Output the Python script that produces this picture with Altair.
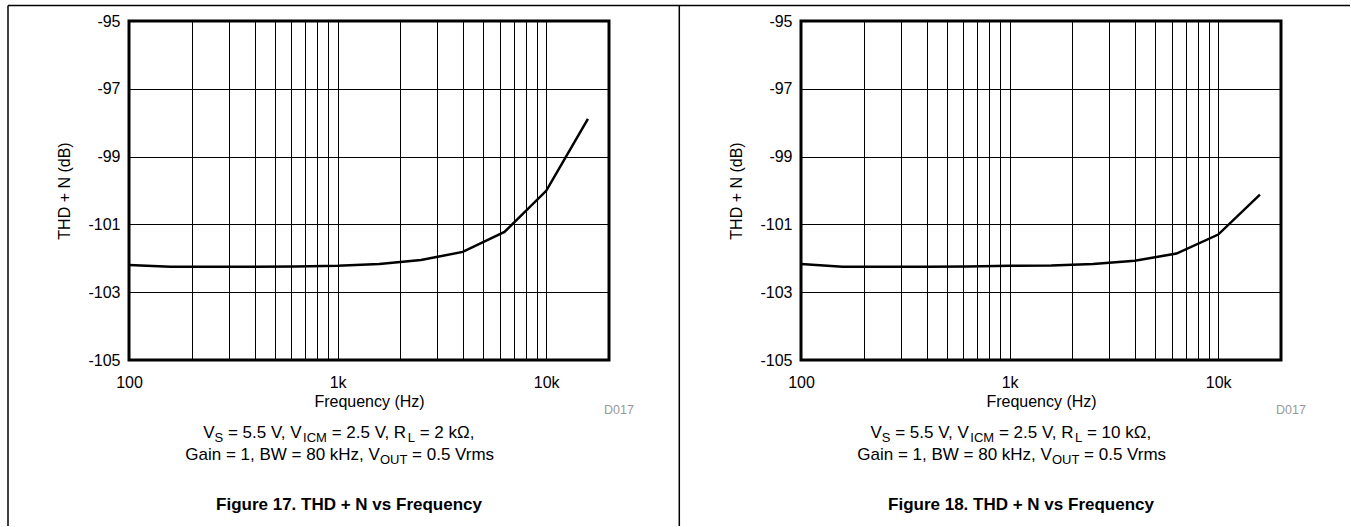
import altair as alt
import pandas as pd

# ---------------- data ----------------
freq_hz = [100, 158, 251, 398, 631, 1000, 1585, 2512, 3981, 6310, 10000, 15849]
thd_rl_2k = [-102.20, -102.25, -102.25, -102.25, -102.24, -102.22, -102.17, -102.05, -101.81, -101.22, -100.01, -97.89]
thd_rl_10k = [-102.17, -102.25, -102.25, -102.25, -102.24, -102.22, -102.21, -102.17, -102.07, -101.86, -101.30, -100.12]

x_grid_values = [100, 200, 300, 400, 500, 600, 700, 800, 900,
                 1000, 2000, 3000, 4000, 5000, 6000, 7000, 8000, 9000, 10000, 20000]
x_label_values = [100, 1000, 10000]
x_label_texts = ["100", "1k", "10k"]
y_tick_values = [-105, -103, -101, -99, -97, -95]

figure_titles = ["Figure 17. THD + N vs Frequency", "Figure 18. THD + N vs Frequency"]
cond_line1 = [
    [("V", 0), ("S", 1), (" = 5.5 V, V", 0), ("ICM", 1), (" = 2.5 V, R", 0), ("L", 1), (" = 2 k\u03a9,", 0)],
    [("V", 0), ("S", 1), (" = 5.5 V, V", 0), ("ICM", 1), (" = 2.5 V, R", 0), ("L", 1), (" = 10 k\u03a9,", 0)],
]
cond_line2 = [("Gain = 1, BW = 80 kHz, V", 0), ("OUT", 1), (" = 0.5 Vrms", 0)]
drawing_id = "D017"
x_title = "Frequency (Hz)"
y_title = "THD + N (dB)"

# ---------------- layout ----------------
W, H = 480, 339
LEFT, TOP = 129, 21
GAP = 192
FONT = "Liberation Sans"

# Arial / Liberation Sans advance widths (per 1000 em)
AW = {" ": 278, ",": 278, ".": 278, "=": 584, "0": 556, "1": 556, "2": 556, "5": 556, "8": 556,
      "V": 667, "S": 667, "I": 278, "C": 722, "M": 833, "R": 722, "L": 556, "k": 500, "\u03a9": 768,
      "G": 778, "a": 556, "i": 222, "n": 556, "B": 667, "W": 944, "H": 722, "z": 500, "O": 778,
      "U": 722, "T": 611, "r": 333, "m": 833, "s": 500}


def tw(s, size):
    return sum(AW.get(c, 556) for c in s) * size / 1000.0


def text_layer(s, x, y, size, weight="normal", align="left", color="black"):
    return alt.Chart(pd.DataFrame({"t": [s]})).mark_text(
        font=FONT, fontSize=size, fontWeight=weight, align=align,
        baseline="alphabetic", color=color
    ).encode(x=alt.value(x), y=alt.value(y), text="t:N")


def rich_line(segments, cx, y, size=17, sub_size=13, sub_dy=4):
    sizes = [sub_size if sub else size for _, sub in segments]
    total = sum(tw(t, s) for (t, _), s in zip(segments, sizes))
    x = cx - total / 2.0
    layers = []
    for (t, sub), s in zip(segments, sizes):
        stripped = t.lstrip(" ")
        lead = tw(t[: len(t) - len(stripped)], s)
        layers.append(text_layer(stripped.rstrip(" "), x + lead, y + (sub_dy if sub else 0), s))
        x += tw(t, s)
    return layers


label_expr = " : ".join(
    f"datum.value == {v} ? '{t}'" for v, t in zip(x_label_values, x_label_texts)
) + " : ''"


def rule(**enc):
    return alt.Chart(pd.DataFrame({"a": [0]})).mark_rule(color="black", strokeWidth=1.5).encode(**enc)


def panel(values, idx):
    df = pd.DataFrame({"f": freq_hz, "thd": values})
    x = alt.X("f:Q",
              scale=alt.Scale(type="log", domain=[100, 20000], nice=False),
              axis=alt.Axis(values=x_grid_values, labelExpr=label_expr, title=x_title,
                            grid=True, gridColor="black", gridWidth=1, gridOpacity=1,
                            ticks=False, tickSize=0, domain=False,
                            labelFont=FONT, labelFontSize=16, labelColor="black",
                            labelPadding=27, labelBaseline="alphabetic", labelAlign="center",
                            labelFlush=False, labelOverlap=False,
                            titleFont=FONT, titleFontSize=16, titleFontWeight="normal",
                            titleColor="black", titleX=W / 2, titleY=46,
                            titleAlign="center", titleBaseline="alphabetic"))
    y = alt.Y("thd:Q",
              scale=alt.Scale(domain=[-105, -95], nice=False, zero=False),
              axis=alt.Axis(values=y_tick_values, labelExpr="'' + datum.value", title=y_title,
                            grid=True, gridColor="black", gridWidth=1, gridOpacity=1,
                            ticks=False, tickSize=0, domain=False,
                            labelFont=FONT, labelFontSize=16, labelColor="black",
                            labelPadding=9, labelBaseline="middle", labelAlign="right",
                            labelFlush=False, labelOverlap=False,
                            titleFont=FONT, titleFontSize=16, titleFontWeight="normal",
                            titleColor="black", titleX=-65, titleY=H / 2, titleAngle=270,
                            titleAlign="center", titleBaseline="middle"))
    line = alt.Chart(df).mark_line(color="black", strokeWidth=2.5, clip=True).encode(x=x, y=y)

    # thick plot frame
    frame = alt.Chart(pd.DataFrame({"a": [0]})).mark_rect(
        fillOpacity=0, stroke="black", strokeWidth=3
    ).encode(x=alt.value(0), x2=alt.value(W), y=alt.value(0), y2=alt.value(H))

    layers = [line, frame]
    layers.append(text_layer(drawing_id, 475, 393, 12.5, color="#999999"))
    layers += rich_line(cond_line1[idx], 210, 417)
    layers += rich_line(cond_line2, 211, 438.5)
    layers.append(text_layer(figure_titles[idx], 220, 488.5, 17, weight="bold", align="center"))

    if idx == 0:
        # page frame lines (top rule, left border, divider) and an invisible size anchor
        layers.append(rule(x=alt.value(8 - LEFT), x2=alt.value(1350 - LEFT), y=alt.value(5.5 - TOP)))
        layers.append(rule(x=alt.value(8 - LEFT), y=alt.value(5.5 - TOP), y2=alt.value(526 - TOP)))
        layers.append(rule(x=alt.value(679.3 - LEFT), y=alt.value(5.5 - TOP), y2=alt.value(526 - TOP)))
        layers.append(alt.Chart(pd.DataFrame({"a": [0]})).mark_rule(opacity=0, strokeWidth=0.01).encode(
            x=alt.value(-LEFT), x2=alt.value(1351 - LEFT), y=alt.value(-TOP), y2=alt.value(527 - TOP)))

    return alt.layer(*layers).properties(width=W, height=H)


chart = alt.hconcat(panel(thd_rl_2k, 0), panel(thd_rl_10k, 1), spacing=GAP, bounds="flush").properties(
    padding=0, autosize=alt.AutoSizeParams(type="pad"), background="white"
).configure_view(stroke=None)

chart.save("out.html", embed_options={"renderer": "svg", "actions": False})
